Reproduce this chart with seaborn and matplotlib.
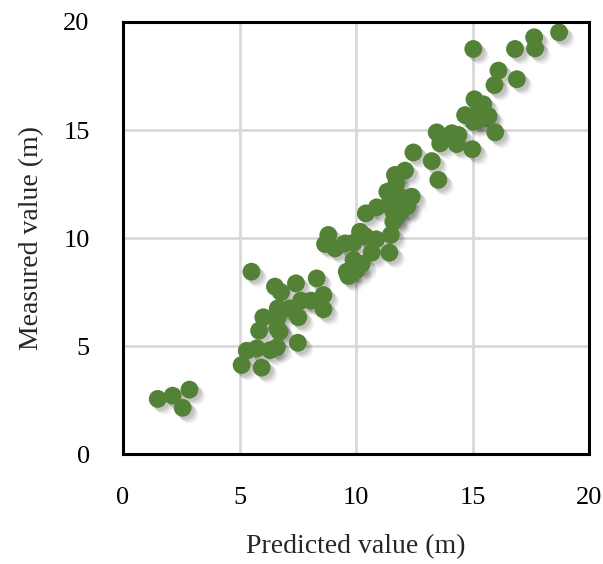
import matplotlib
matplotlib.use("Agg")
import matplotlib.pyplot as plt
import matplotlib.patheffects as pe
import seaborn as sns
import pandas as pd

# values
predicted = [1.49, 2.13, 2.85, 2.56, 5.09, 5.95, 5.31, 5.74, 6.31, 6.60,
             7.50, 5.84, 6.62, 6.71, 6.02, 6.62, 7.52, 6.64, 7.14, 7.64,
             8.07, 8.60, 8.60, 6.52, 6.78, 7.42, 8.31, 5.51, 9.67, 9.60,
             10.03, 9.89, 10.24, 10.67, 11.43, 8.67, 9.10, 9.53, 9.89, 8.81,
             10.17, 10.39, 10.86, 11.49, 10.42, 10.89, 11.60, 11.74, 11.60, 12.03,
             11.53, 11.89, 12.39, 11.34, 11.72, 11.67, 12.10, 12.46, 13.25, 13.53,
             13.46, 14.11, 14.39, 13.61, 14.32, 14.99, 15.97, 14.68, 15.11, 15.54,
             15.04, 15.25, 15.68, 15.08, 15.46, 15.94, 16.11, 16.90, 15.03, 16.82,
             17.64, 17.68, 18.71, 11.39, 12.18]
measured = [2.55, 2.70, 2.98, 2.14, 4.12, 4.00, 4.78, 4.89, 4.81, 4.94,
            5.15, 5.71, 5.82, 5.66, 6.33, 6.28, 6.33, 6.74, 6.74, 7.10,
            7.10, 7.36, 6.70, 7.75, 7.49, 7.90, 8.13, 8.44, 8.24, 8.44,
            8.52, 8.98, 8.80, 9.32, 9.32, 9.72, 9.52, 9.75, 9.78, 10.14,
            10.29, 10.09, 9.94, 10.14, 11.14, 11.42, 10.75, 10.99, 11.22, 11.37,
            11.61, 11.91, 11.91, 12.14, 12.50, 12.92, 13.12, 13.96, 13.56, 12.69,
            14.89, 14.85, 14.77, 14.38, 14.35, 14.11, 14.89, 15.69, 15.69, 15.69,
            15.38, 15.46, 15.65, 16.42, 16.19, 17.08, 17.75, 17.35, 18.75, 18.75,
            19.29, 18.78, 19.52, 11.53, 11.45]
ticks = [0, 5, 10, 15, 20]

df = pd.DataFrame({"predicted": predicted, "measured": measured})

sns.set_style("white")
plt.rcParams['font.family'] = ['Liberation Serif', 'DejaVu Serif']

fig = plt.figure(figsize=(6.03, 5.64), dpi=100)
ax = fig.add_axes([0.204, 0.195, 0.773, 0.766])

# soft drop shadow under the points
shadow = [pe.SimplePatchShadow(offset=(5, -5), shadow_rgbFace='#000000', alpha=0.04),
          pe.SimplePatchShadow(offset=(4, -4), shadow_rgbFace='#000000', alpha=0.06),
          pe.SimplePatchShadow(offset=(3, -3), shadow_rgbFace='#000000', alpha=0.07),
          pe.SimplePatchShadow(offset=(2, -2), shadow_rgbFace='#000000', alpha=0.08),
          pe.Normal()]

sns.scatterplot(data=df, x="predicted", y="measured", ax=ax,
                color="#538135", s=165, edgecolor="none", linewidth=0,
                zorder=3)
ax.collections[0].set_path_effects(shadow)

ax.set_xlim(0, 20)
ax.set_ylim(0, 20)
ax.set_xticks(ticks)
ax.set_yticks(ticks)
ax.grid(True, color="#d9d9d9", linewidth=2, zorder=0)
ax.set_axisbelow(True)

for sp in ax.spines.values():
    sp.set_color("black")
    sp.set_linewidth(2.2)
    sp.set_zorder(4)

ax.tick_params(axis="y", direction="in", length=6, width=2.2, pad=24,
               labelsize=19, colors="black")
ax.tick_params(axis="x", length=0, pad=24, labelsize=19, colors="black")

ax.set_xlabel("Predicted value (m)", fontsize=20, labelpad=18)
ax.set_ylabel("Measured value (m)", fontsize=20, labelpad=14)

fig.savefig("out.png", dpi=100)
